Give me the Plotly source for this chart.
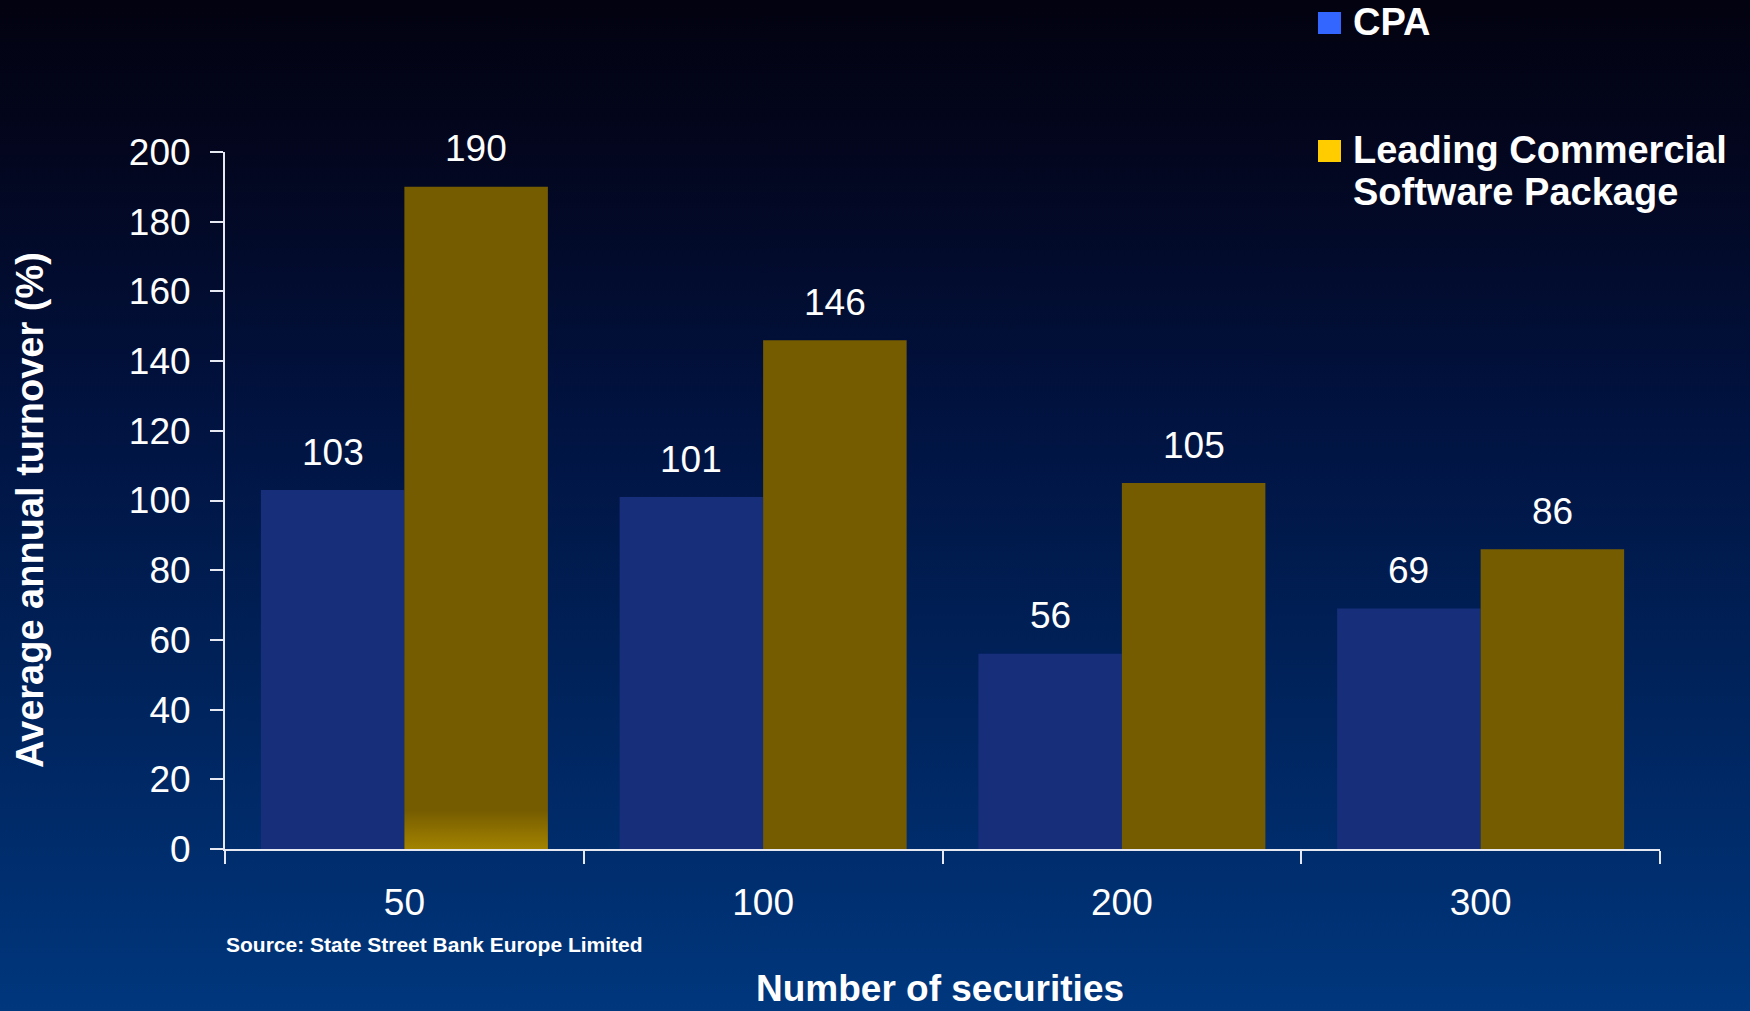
import base64
import plotly.graph_objects as go

# Portfolio size categories and average annual turnover (%) per method
categories = ["50", "100", "200", "300"]
series_names = ["CPA", "Leading Commercial Software Package"]
legend_lines = [["CPA"], ["Leading Commercial", "Software Package"]]
cpa_values = [103, 101, 56, 69]
commercial_values = [190, 146, 105, 86]
y_ticks = [0, 20, 40, 60, 80, 100, 120, 140, 160, 180, 200]

bar_colors = ["#172e7a", "#765c00"]
swatch_colors = ["#3366ff", "#ffcc00"]
FONT = "Liberation Sans, Arial, Helvetica, sans-serif"
NARROW = "Liberation Sans Narrow, Arial Narrow, Liberation Sans, Arial, sans-serif"

W, H = 1750, 1011
ML, MR, MT, MB = 225, 90, 152, 162
PW, PH = W - ML - MR, H - MT - MB


def px(x):
    return (x - ML) / PW


def py(y):
    return (H - MB - y) / PH


def svg_uri(body):
    return "data:image/svg+xml;base64," + base64.b64encode(body.encode()).decode()


# Dark navy-to-blue backdrop as an inline SVG gradient
bg_svg = f"""<svg xmlns='http://www.w3.org/2000/svg' width='{W}' height='{H}' viewBox='0 0 {W} {H}' preserveAspectRatio='none'>
<defs><linearGradient id='g' x1='0' y1='0' x2='0' y2='1'>
<stop offset='0' stop-color='#020210'/>
<stop offset='0.15' stop-color='#03061e'/>
<stop offset='0.4' stop-color='#01123f'/>
<stop offset='0.65' stop-color='#002158'/>
<stop offset='0.85' stop-color='#002d6d'/>
<stop offset='1' stop-color='#00377d'/>
</linearGradient></defs>
<rect width='{W}' height='{H}' fill='url(#g)'/></svg>"""

# Warm highlight fading up from the base of the tallest bar
glow_svg = """<svg xmlns='http://www.w3.org/2000/svg' width='100' height='100' viewBox='0 0 100 100' preserveAspectRatio='none'>
<defs><linearGradient id='h' x1='0' y1='0' x2='0' y2='1'>
<stop offset='0' stop-color='#a38300' stop-opacity='0'/>
<stop offset='1' stop-color='#a38300' stop-opacity='1'/>
</linearGradient></defs>
<rect width='100' height='100' fill='url(#h)'/></svg>"""

fig = go.Figure()
for name, vals, col in zip(series_names, [cpa_values, commercial_values], bar_colors):
    fig.add_trace(go.Bar(
        x=categories, y=vals, name=name,
        marker=dict(color=col, line=dict(width=0)),
        showlegend=False, hoverinfo="x+y+name",
    ))

annotations = []
# Value labels above each bar
for k, vals in enumerate([cpa_values, commercial_values]):
    offset = -0.2 if k == 0 else 0.2
    for i, v in enumerate(vals):
        annotations.append(dict(
            x=i + offset, y=v, xref="x", yref="y", text=str(v),
            showarrow=False, yanchor="middle", yshift=38,
            font=dict(family=FONT, size=37, color="white"),
        ))

# Custom legend in the top-right corner
swatch_rows = [(12, 34), (140, 162)]
text_rows = [[22], [150, 192]]
for (top, bot), lines, ys, col in zip(swatch_rows, legend_lines, text_rows, swatch_colors):
    fig.add_shape(type="rect", xref="paper", yref="paper",
                  x0=px(1318), x1=px(1341), y0=py(bot), y1=py(top),
                  fillcolor=col, line=dict(width=0))
    for line, cy in zip(lines, ys):
        annotations.append(dict(
            x=px(1351), y=py(cy), xref="paper", yref="paper", text=f"<b>{line}</b>",
            showarrow=False, xanchor="left", yanchor="middle", align="left",
            font=dict(family=FONT, size=38, color="white"),
        ))

annotations.append(dict(
    x=px(224), y=py(944), xref="paper", yref="paper",
    text="<b>Source: State Street Bank Europe Limited</b>",
    showarrow=False, xanchor="left", yanchor="middle",
    font=dict(family=NARROW, size=21, color="white"),
))
annotations.append(dict(
    x=px(940), y=py(1010), xref="paper", yref="paper",
    text="<b>Number of securities</b>",
    showarrow=False, xanchor="center", yanchor="bottom", borderpad=0,
    font=dict(family=FONT, size=37, color="white"),
))
annotations.append(dict(
    x=px(30), y=py(510), xref="paper", yref="paper",
    text="<b>Average annual turnover (%)</b>", textangle=-90,
    showarrow=False, xanchor="center", yanchor="middle",
    font=dict(family=FONT, size=38, color="white"),
))

fig.update_layout(
    width=W, height=H,
    margin=dict(l=ML, r=MR, t=MT, b=MB, pad=0),
    barmode="group", bargap=0.2, bargroupgap=0,
    paper_bgcolor="#001a4f", plot_bgcolor="rgba(0,0,0,0)",
    font=dict(family=FONT, color="white"),
    annotations=annotations,
    images=[
        dict(source=svg_uri(bg_svg), xref="paper", yref="paper",
             x=-ML / PW, y=1 + MT / PH, sizex=W / PW, sizey=H / PH,
             xanchor="left", yanchor="top", sizing="stretch", layer="below"),
        dict(source=svg_uri(glow_svg), xref="x", yref="y",
             x=0.0, y=11, sizex=0.4, sizey=11,
             xanchor="left", yanchor="top", sizing="stretch", layer="above"),
    ],
    xaxis=dict(
        type="category", range=[-0.5, 3.5], showgrid=False, zeroline=False,
        showline=True, linecolor="#e6e8f2", linewidth=2,
        ticks="outside", tickson="boundaries", ticklen=13, tickwidth=2, tickcolor="#e6e8f2",
        tickfont=dict(family=FONT, size=37, color="white"), ticklabelstandoff=20,
    ),
    yaxis=dict(
        range=[0, 200], tickvals=y_ticks, showgrid=False, zeroline=False,
        showline=True, linecolor="#e6e8f2", linewidth=2,
        ticks="outside", ticklen=13, tickwidth=2, tickcolor="#e6e8f2",
        tickfont=dict(family=FONT, size=37, color="white"), ticklabelstandoff=12,
    ),
)

fig.write_html("out.html")
